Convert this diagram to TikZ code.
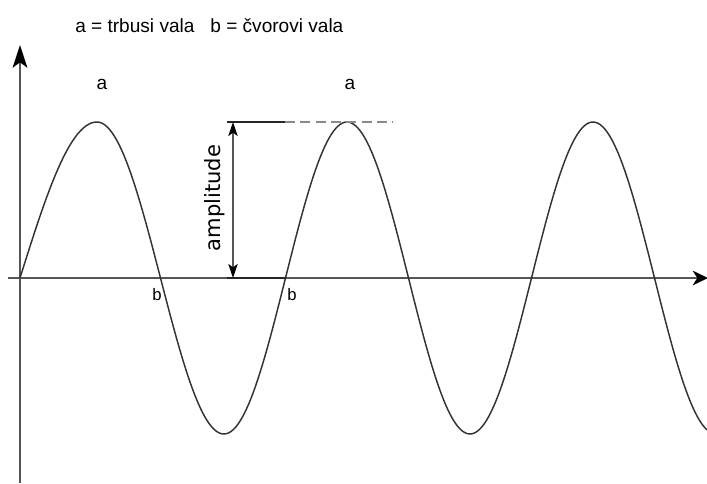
\documentclass[tikz,border=0pt]{standalone}
\usepackage{fontspec}
\setmainfont{Liberation Sans}
\newfontfamily\ampfont{DejaVu Sans}
\usetikzlibrary{arrows.meta}
\definecolor{axisgray}{HTML}{555555}
\definecolor{wavegray}{HTML}{333333}
\definecolor{dashgray}{HTML}{8A8A8A}
\begin{document}
\begin{tikzpicture}[x=0.75pt,y=-0.75pt,
  axisline/.style={draw=axisgray,line width=1.5pt},
  waveline/.style={draw=wavegray,line width=1.1pt,line join=round},
  lbl/.style={inner sep=0pt,font=\fontsize{14.3pt}{16pt}\selectfont},
  nodelbl/.style={inner sep=0pt,font=\fontsize{12.5pt}{14pt}\selectfont}
]
\useasboundingbox (0,0) rectangle (707,483);
% axes
\coordinate (yb) at (20,483);
\coordinate (yt) at (20,45);
\coordinate (xl) at (8,278);
\coordinate (xr) at (708,278);
\draw[axisline,-{Stealth[length=17pt,width=11pt,inset=4pt,black]}] (yb) -- (yt);
\draw[axisline,-{Stealth[length=11.5pt,width=11pt,inset=3.5pt,black]}] (xl) -- (xr);
% wave
\draw[waveline]
  plot[domain=20:97,samples=40] (\x,{278-156*sin((\x-20)/77*90)})
  -- plot[domain=97:224,samples=60] (\x,{278-156*cos((\x-97)/127*180)})
  -- plot[domain=224:707,samples=200] (\x,{278+156*cos((\x-224)/246*360)});
% amplitude
\coordinate (at) at (233,122);
\coordinate (ab) at (233,278);
\coordinate (tl) at (227,122);
\coordinate (tm) at (285,122);
\coordinate (tr) at (393,122);
\coordinate (bl) at (227,278);
\coordinate (bm) at (285,278);
\draw[draw=black!85,line width=1.1pt] (tl) -- (tm);
\draw[draw=dashgray,line width=0.9pt,dash pattern=on 7.5pt off 4pt] (tm) -- (tr);
\draw[draw=black!85,line width=1.6pt] (bl) -- (bm);
\draw[draw=axisgray,line width=1.4pt,{Stealth[length=10.5pt,width=7pt,inset=2.5pt,black]}-{Stealth[length=10.5pt,width=7pt,inset=2.5pt,black]}] (at) -- (ab);
\node[rotate=90,inner sep=0pt,font=\ampfont\fontsize{15.8pt}{18pt}\selectfont] (amp) at (215,198) {amplitude};
% labels
\node[lbl,anchor=base west] (title) at (75,32) {a = trbusi vala\ \ \ b = čvorovi vala};
\node[lbl,anchor=base] (a1) at (102,89) {a};
\node[lbl,anchor=base] (a2) at (350,89) {a};
\node[nodelbl,anchor=base] (b1) at (157,300) {b};
\node[nodelbl,anchor=base] (b2) at (292,300) {b};
\end{tikzpicture}
\end{document}
